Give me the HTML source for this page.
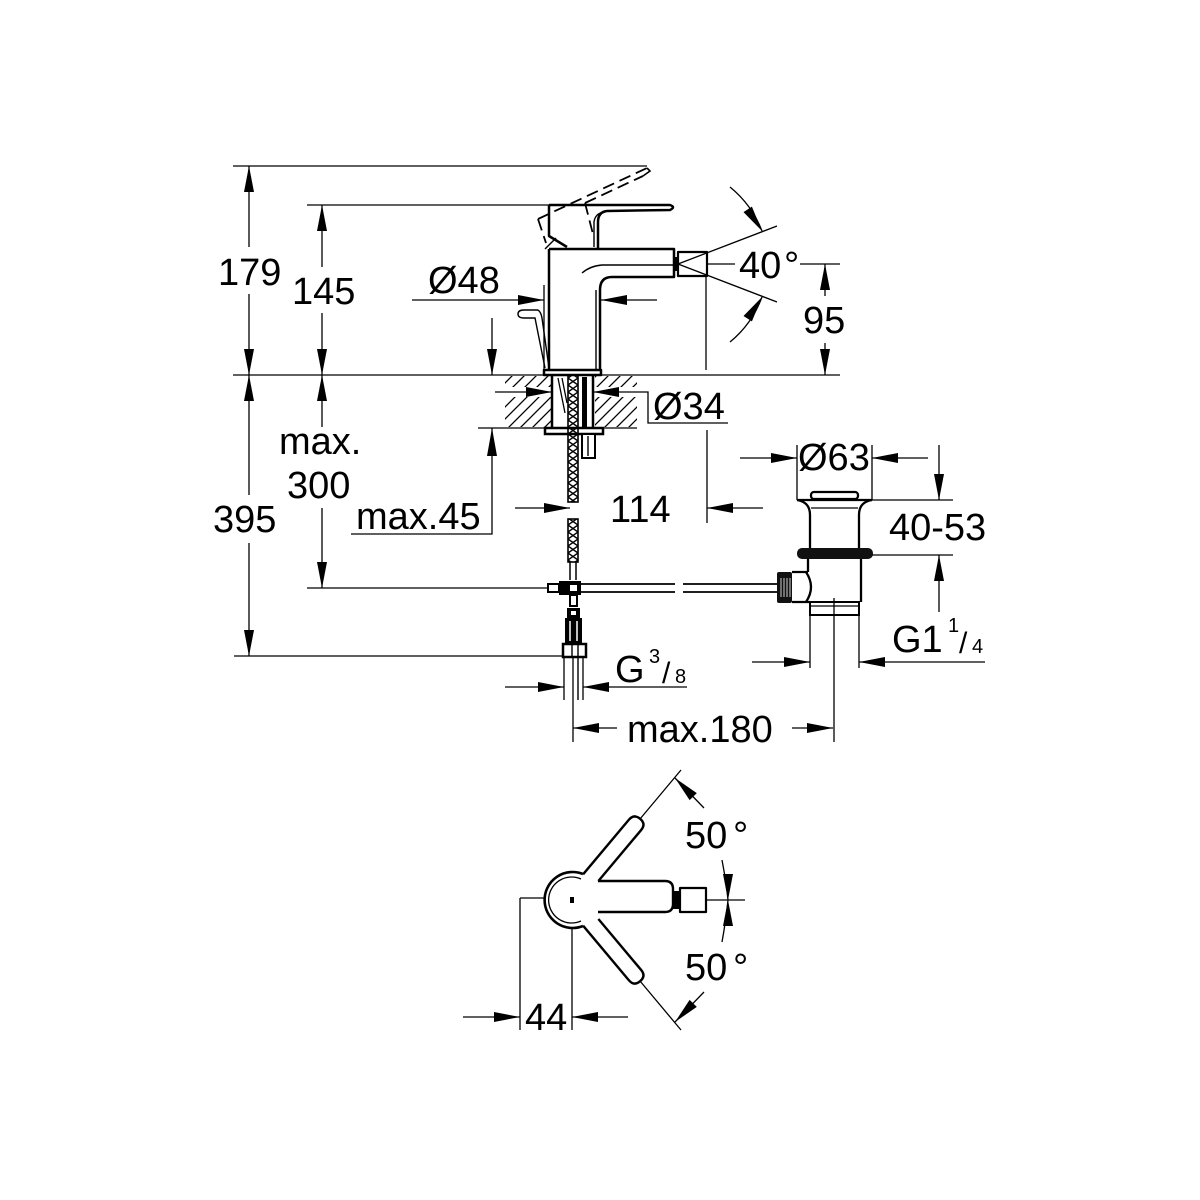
<!DOCTYPE html>
<html><head><meta charset="utf-8"><style>
html,body{margin:0;padding:0;background:#fff;}
svg{display:block;}
text{font-family:"Liberation Sans",Arial,sans-serif;font-size:38px;fill:#000;}
</style></head><body>
<svg width="1200" height="1200" viewBox="0 0 1200 1200" xmlns="http://www.w3.org/2000/svg">
<defs>
<pattern id="hatch" width="12" height="12" patternUnits="userSpaceOnUse">
<path d="M0,12 L12,0 M-3,3 L3,-3 M9,15 L15,9" stroke="#000" stroke-width="1.3"/>
</pattern>
<pattern id="braid" x="568" y="0" width="10" height="7" patternUnits="userSpaceOnUse">
<path d="M0,0 L10,7 M10,0 L0,7" stroke="#000" stroke-width="1.4"/>
</pattern>
</defs>
<rect width="1200" height="1200" fill="#fff"/>

<!-- hatched counter -->
<rect x="505" y="376" width="47" height="51" fill="url(#hatch)"/>
<rect x="595" y="376" width="42" height="51" fill="url(#hatch)"/>
<rect x="494" y="387" width="58" height="10" fill="#fff"/>
<rect x="595" y="387" width="54" height="10" fill="#fff"/>

<!-- thin dimension lines -->
<g stroke="#000" stroke-width="1.3" fill="none">
<path d="M233,166 H647"/>
<path d="M307,205 H549"/>
<path d="M233,375 H840"/>
<path d="M249,166 V247 M249,294 V375"/>
<path d="M322,205 V267 M322,313 V375"/>
<path d="M249,375 V495 M249,543 V656"/>
<path d="M322,375 V427 M322,508 V588"/>
<path d="M307,588 H548"/>
<path d="M234,656 H562"/>
<path d="M478,428 H637"/>
<path d="M492,428 V534 H351"/>
<path d="M492,318 V375"/>
<path d="M412,300 H544 M544,285 V371 M601,300 H657"/>
<path d="M800,264 H840 M825,264 V296 M825,343 V375"/>
<path d="M707,264 H735"/>
<path d="M706,276 V370"/>
<path d="M678,264 L777,226 M678,264 L777,302"/>
<path d="M730,187 Q752,205 762,231"/>
<path d="M730,342 Q752,324 762,297"/>
<path d="M495,392 H552 M593,392 H648 V423 H728"/>
<path d="M515,508 H570 M707,508 H763 M707,430 V523"/>
<path d="M740,458 H797 M872,458 H928 M797,445 V500 M872,445 V500"/>
<path d="M872,500 H953 M872,555 H953 M939,445 V500 M939,555 V612"/>
<path d="M752,662 H810 M859,662 H985 M810,615 V668 M859,615 V668"/>
<path d="M505,687 H564 M583,687 H687 M564,657 V700 M583,657 V700"/>
<path d="M573,657 V742 M573,728 H617 M792,728 H833 M834,598 V742"/>
<!-- top view dims -->
<path d="M520,898 H546 M520,898 V1030 M572,928 V1030"/>
<path d="M463,1017 H520 M572,1017 H628"/>
<path d="M706,900 H745"/>
<path d="M640,819 L681,770 M640,981 L681,1030"/>
<path d="M704,808 L675,778 M704,992 L675,1022"/>
<path d="M722,860 Q726,880 728,900 M722,942 Q726,920 728,900"/>
</g>

<!-- dashed alternate handle -->
<g stroke="#000" stroke-width="1.8" fill="none" stroke-dasharray="12,6">
<path d="M538,219 L647,168"/>
<path d="M585,203 L643,176"/>
<path d="M538,219 L546,243"/>
<path d="M585,203 L594,238"/>
</g>
<path d="M647,168 L650,171 L643,176" stroke="#000" stroke-width="1.6" fill="none"/>

<!-- arrowheads -->
<g fill="#000">
<polygon points="249,166 244,192 254,192"/>
<polygon points="249,375 244,349 254,349"/>
<polygon points="322,205 317,231 327,231"/>
<polygon points="322,375 317,349 327,349"/>
<polygon points="249,375 244,401 254,401"/>
<polygon points="249,656 244,630 254,630"/>
<polygon points="322,375 317,401 327,401"/>
<polygon points="322,588 317,562 327,562"/>
<polygon points="492,428 487,456 497,456"/>
<polygon points="492,375 487,349 497,349"/>
<polygon points="544,300 518,295 518,305"/>
<polygon points="601,300 627,295 627,305"/>
<polygon points="762,231 743.5,212.1 751.9,206.6"/>
<polygon points="762,297 751.9,321.4 743.5,316"/>
<polygon points="825,264 820,290 830,290"/>
<polygon points="825,375 820,349 830,349"/>
<polygon points="552,392 526,387 526,397"/>
<polygon points="593,392 619,387 619,397"/>
<polygon points="570,508 544,503 544,513"/>
<polygon points="707,508 733,503 733,513"/>
<polygon points="797,458 771,453 771,463"/>
<polygon points="872,458 898,453 898,463"/>
<polygon points="939,500 934,474 944,474"/>
<polygon points="939,555 934,581 944,581"/>
<polygon points="810,662 784,657 784,667"/>
<polygon points="859,662 885,657 885,667"/>
<polygon points="564,687 538,682 538,692"/>
<polygon points="583,687 609,682 609,692"/>
<polygon points="573,728 599,723 599,733"/>
<polygon points="833,728 807,723 807,733"/>
<polygon points="520,1017 494,1012 494,1022"/>
<polygon points="572,1017 598,1012 598,1022"/>
<polygon points="675,778 696.8,793.1 689.6,800.1"/>
<polygon points="675,1022 689.6,999.9 696.8,1006.9"/>
<polygon points="728,900 723,874 733,874"/>
<polygon points="728,900 723,926 733,926"/>
</g>

<!-- faucet side view outlines -->
<g stroke="#000" stroke-width="2.5" fill="none" stroke-linejoin="round">
<path d="M549,205 L670,205 Q676,207 670,210 L607,211 Q598,212 598,222 L598,248"/>
<path d="M549,205 V236 L567,247"/>
<path d="M549,249 H674 V277 H612 Q600,277 600,290 V371"/>
<path d="M549,249 V371"/>
<rect x="544" y="370" width="57" height="5"/>
<rect x="678" y="252" width="29" height="24" stroke-width="2.2"/>
</g>
<g stroke="#000" stroke-width="1.4" fill="none">
<path d="M545,249 L556,238"/>
<path d="M594,247 V222 Q595,214 603,212"/>
<path d="M582,273 Q590,266 602,265 H674"/>
<path d="M596,290 V371"/>
<path d="M538,310 L524,310 Q518,310 518,314 Q518,318 524,318 L535,318 L545,368"/>
<path d="M538,310 Q541,312 542,318 L549,368"/>
</g>
<rect x="674" y="257" width="4" height="14" fill="#000"/>

<!-- mount section -->
<g stroke="#000" stroke-width="2.5" fill="none">
<path d="M552,375 V428"/>
<path d="M593,375 V428"/>
<rect x="545" y="428" width="58" height="6" fill="#fff"/>
<rect x="582" y="434" width="13" height="24" fill="#fff" stroke-width="2"/>
</g>
<path d="M588,436 V456" stroke="#000" stroke-width="1.4"/>
<path d="M558,378 L565,413 M562,378 L567,403" stroke="#000" stroke-width="1.3" fill="none"/>
<rect x="582" y="377" width="5" height="51" fill="#000"/>
<rect x="568" y="375" width="10" height="127" fill="url(#braid)" stroke="#000" stroke-width="1.6"/>
<rect x="568" y="519" width="10" height="43" fill="url(#braid)" stroke="#000" stroke-width="1.6"/>
<g stroke="#000" stroke-width="1.5" fill="none">
<path d="M570,562 V580 M576,562 V580"/>
<!-- tee -->
<rect x="548" y="584" width="11" height="8" stroke-width="2"/>
<rect x="570" y="595" width="7" height="11" stroke-width="2"/>
<path d="M580,584 H675 M580,592 H675 M683,584 H777 M683,592 H777" stroke-width="1.8"/>
</g>
<rect x="559" y="581" width="22" height="14" fill="#000"/>
<rect x="570" y="585" width="7" height="6" fill="#fff"/>
<rect x="567" y="608" width="13" height="10" fill="#000"/>
<rect x="571" y="611" width="5" height="4" fill="#fff"/>
<rect x="565" y="618" width="17" height="25" fill="#000"/>
<path d="M570,621 V641 M577,621 V641" stroke="#fff" stroke-width="1.5"/>
<rect x="563" y="644" width="23" height="13" fill="#fff" stroke="#000" stroke-width="2.5"/>
<path d="M572,645 V656 M578,645 V656 M578,657 V700" stroke="#000" stroke-width="1.4"/>

<!-- waste -->
<g stroke="#000" stroke-width="2.3" fill="none">
<rect x="811" y="492" width="47" height="7" rx="3"/>
<path d="M797,500 H872"/>
<path d="M797,500 Q810,502 810,515 V548 M872,500 Q859,502 859,515 V548"/>
<path d="M808,559 V572 M861,559 V602"/>
<path d="M792,572 H808 M792,602 H810"/>
<path d="M806,572 Q816,587 806,602"/>
<rect x="810" y="602" width="49" height="13" stroke-width="2"/>
</g>
<path d="M811,508 H858 M810,606 H859" stroke="#000" stroke-width="1.3"/>
<rect x="797" y="548" width="76" height="11" rx="5" fill="#111"/>
<rect x="777" y="572" width="15" height="31" rx="2" fill="#111"/>
<path d="M781,578 V597 M784,578 V597 M787,578 V597 M790,578 V597" stroke="#fff" stroke-width="0.8"/>

<!-- top view -->
<g stroke="#000" stroke-width="2.4" fill="#fff" stroke-linejoin="round">
<path d="M598,881 H665 Q673,881 673,889 V904 Q673,912 665,912 H598"/>
<path transform="translate(572,900) rotate(-50)" d="M26.8,-8 L98,-8 Q106,-8 106,0 Q106,8 98,8 L31.5,8"/>
<path transform="translate(572,900) rotate(50)" d="M31.5,-8 L98,-8 Q106,-8 106,0 Q106,8 98,8 L26.8,8"/>
<path d="M583,874 A28,28 0 1 0 583,926" fill="none" stroke-width="2.6"/>
<rect x="680" y="888" width="26" height="24" stroke-width="2.2"/>
</g>
<path d="M581,879 A23,23 0 1 0 581,921" fill="none" stroke="#000" stroke-width="1.3"/>
<rect x="673" y="891" width="7" height="18" fill="#000"/>
<rect x="570" y="897" width="4" height="6" fill="#000"/>

<!-- text -->
<text x="218" y="285">179</text>
<text x="292" y="304">145</text>
<text x="428" y="293">Ø48</text>
<text x="739" y="278">40</text>
<text x="784" y="278">°</text>
<text x="803" y="333">95</text>
<text x="653" y="419">Ø34</text>
<text x="279" y="454">max.</text>
<text x="287" y="498">300</text>
<text x="213" y="532">395</text>
<text x="356" y="529">max.45</text>
<text x="610" y="522">114</text>
<text x="798" y="470">Ø63</text>
<text x="889" y="540">40-53</text>
<text x="615" y="682">G</text>
<text x="649" y="663" style="font-size:20px">3</text>
<text x="662" y="683" style="font-size:30px">/</text>
<text x="675" y="683" style="font-size:20px">8</text>
<text x="892" y="652">G1</text>
<text x="948" y="632" style="font-size:20px">1</text>
<text x="959" y="653" style="font-size:30px">/</text>
<text x="972" y="653" style="font-size:20px">4</text>
<text x="627" y="742">max.180</text>
<text x="685" y="848">50</text>
<text x="733" y="848">°</text>
<text x="685" y="980">50</text>
<text x="733" y="980">°</text>
<text x="525" y="1030">44</text>
</svg>
</body></html>
